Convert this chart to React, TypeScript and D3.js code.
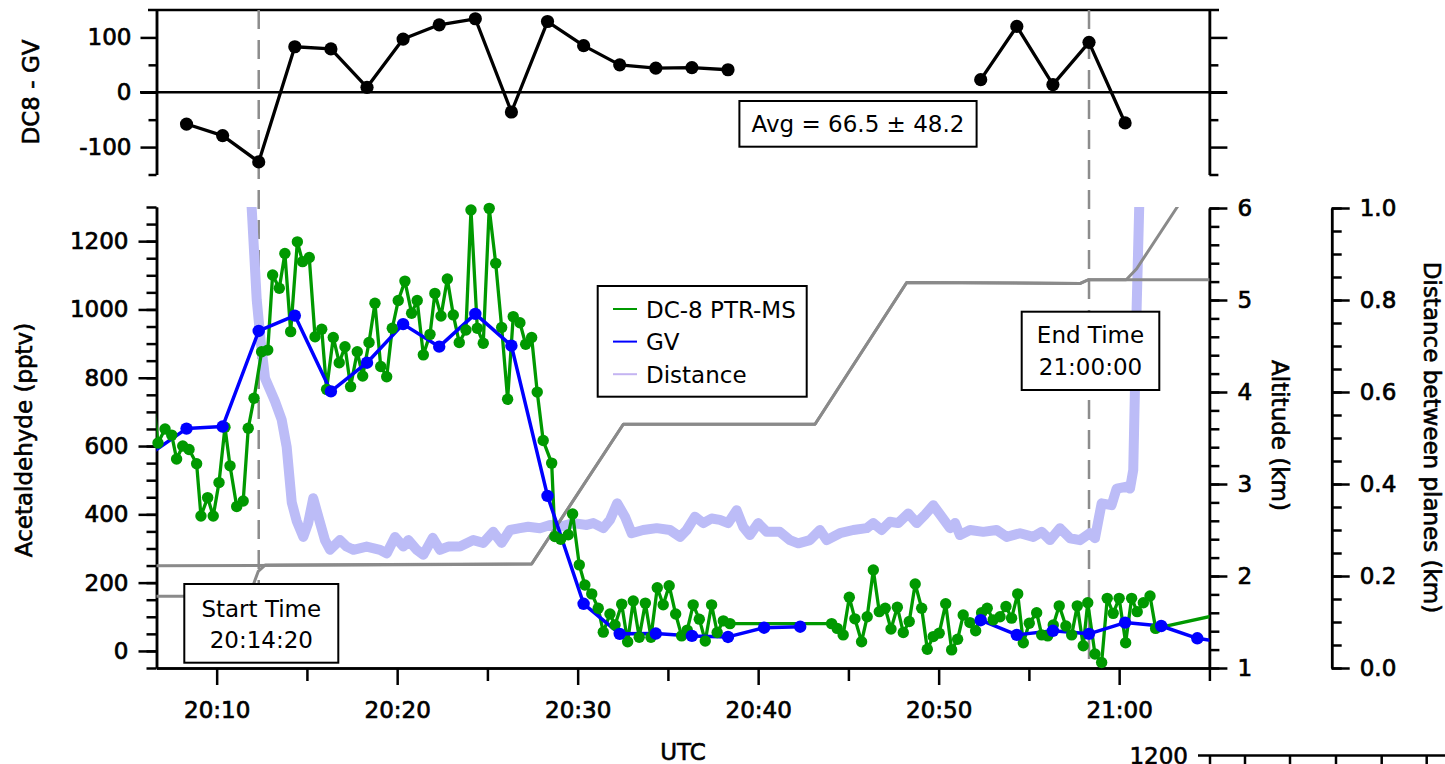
import React, { useEffect, useRef } from "react";
import * as d3 from "d3";

// all times are minutes after 20:00 UTC

// GV acetaldehyde (2-min samples), null = no data
const gvTimes = [6.33, 8.33, 10.33, 12.33, 14.33, 16.33, 18.33, 20.33, 22.33, 24.33, 26.33, 28.33, 30.33, 32.33, 34.33, 36.33, 38.33, 40.33, 42.33, 47.33, 52.33, 54.33, 56.33, 58.33, 60.33, 62.33, 64.33, 66.33];
const gvValues = [577, 651, 657, 937, 982, 760, 844, 957, 891, 987, 894, 454, 138, 50, 51, 44, 41, 68, 71, null, 90, 47, 59, 50, 83, 73, 37, 21];

// DC8 - GV difference
const diffTimes = [8.33, 10.33, 12.33, 14.33, 16.33, 18.33, 20.33, 22.33, 24.33, 26.33, 28.33, 30.33, 32.33, 34.33, 36.33, 38.33, 45.33, 52.33, 54.33, 56.33, 58.33, 60.33];
const diffValues = [-58, -79, -127, 83, 79, 9, 97, 123, 134, -36, 129, 85, 50, 44, 45, 41, null, 23, 120, 14, 91, -56];

// DC-8 PTR-MS acetaldehyde
const dc8Times = [6.42, 6.75, 7.14, 7.51, 7.78, 8.12, 8.47, 8.89, 9.13, 9.5, 9.81, 10.13, 10.46, 10.74, 11.11, 11.47, 11.75, 12.07, 12.49, 12.83, 13.1, 13.47, 13.78, 14.1, 14.47, 14.76, 15.13, 15.45, 15.82, 16.09, 16.46, 16.79, 17.11, 17.42, 17.79, 18.09, 18.44, 18.77, 19.09, 19.42, 19.73, 20.06, 20.43, 20.8, 21.11, 21.45, 21.82, 22.09, 22.43, 22.78, 23.11, 23.44, 23.81, 24.09, 24.44, 24.77, 25.1, 25.46, 25.79, 26.12, 26.43, 26.8, 27.12, 27.45, 27.76, 28.09, 28.56, 28.74, 29.06, 29.48, 29.72, 30.09, 30.4, 30.78, 31.14, 31.42, 31.79, 32.07, 32.44, 32.77, 33.08, 33.41, 33.75, 34.06, 34.41, 34.74, 35.07, 35.43, 35.76, 36.07, 36.4, 36.74, 37.07, 37.42, 37.73, 38.07, 38.44, 44.07, 44.38, 44.71, 45.05, 45.36, 45.73, 46.04, 46.38, 46.71, 47.04, 47.36, 47.71, 48.04, 48.37, 48.7, 49.06, 49.37, 49.7, 50.03, 50.39, 50.72, 51.05, 51.36, 51.73, 52.05, 52.38, 52.69, 53.02, 53.4, 53.73, 54.04, 54.38, 54.69, 55.02, 55.43, 55.71, 56.04, 56.35, 56.68, 57.05, 57.37, 57.68, 58.01, 58.26, 58.66, 59.03, 59.34, 59.67, 60.0, 60.36, 60.69, 61.0, 61.34, 61.71, 62.02, 66.0];
const dc8Values = [760, 609, 650, 632, 562, 600, 590, 548, 395, 449, 395, 493, 655, 542, 423, 439, 652, 740, 876, 881, 1101, 1062, 1164, 935, 1198, 1140, 1152, 920, 942, 766, 918, 844, 891, 774, 876, 805, 903, 1018, 833, 803, 945, 1026, 1083, 989, 1026, 867, 927, 1047, 981, 1089, 984, 903, 940, 1291, 945, 901, 1296, 1135, 947, 737, 979, 961, 898, 918, 758, 616, 550, 335, 327, 340, 401, 252, 193, 167, 125, 55, 108, 76, 137, 27, 146, 40, 140, 40, 185, 135, 191, 108, 44, 61, 135, 93, 29, 135, 54, 88, 80, 80, 66, 47, 157, 94, 27, 100, 237, 115, 125, 64, 128, 54, 86, 196, 125, 5, 42, 52, 138, 3, 34, 105, 83, 59, 112, 125, 91, 100, 130, 96, 167, 24, 81, 112, 47, 44, 76, 132, 73, 47, 132, 15, 141, -9, -34, 154, 110, 154, 24, 154, 115, 141, 161, 66, 112];

// distance between planes (km)
const distTimes = [11.79, 11.94, 12.22, 12.44, 12.68, 13.23, 13.6, 13.88, 14.16, 14.43, 14.8, 15.07, 15.35, 15.63, 16.0, 16.28, 16.83, 17.2, 17.57, 18.31, 19.05, 19.42, 19.88, 20.34, 20.62, 21.08, 21.45, 21.97, 22.37, 22.83, 23.48, 24.22, 24.77, 25.32, 25.79, 26.25, 26.8, 27.26, 27.91, 28.47, 29.02, 29.76, 30.5, 30.87, 31.42, 31.79, 32.19, 32.62, 32.99, 33.63, 34.38, 35.11, 35.67, 36.04, 36.5, 36.96, 37.42, 37.88, 38.34, 38.81, 39.17, 39.54, 40.0, 40.47, 41.2, 41.76, 42.22, 42.87, 43.42, 43.8, 44.53, 45.27, 46.01, 46.38, 46.84, 47.3, 47.76, 48.32, 48.78, 49.24, 49.7, 50.17, 50.63, 50.91, 51.18, 51.74, 52.47, 53.21, 53.77, 54.51, 55.24, 55.71, 56.17, 56.72, 57.28, 57.83, 58.38, 58.66, 59.03, 59.58, 59.86, 60.42, 60.6, 60.78, 60.87, 60.97, 61.11, 61.2];
const distKm = [1.1, 1.0, 0.8, 0.71, 0.63, 0.58, 0.54, 0.48, 0.36, 0.32, 0.285, 0.315, 0.369, 0.329, 0.278, 0.257, 0.278, 0.264, 0.257, 0.264, 0.257, 0.249, 0.285, 0.264, 0.278, 0.257, 0.246, 0.283, 0.257, 0.264, 0.264, 0.278, 0.272, 0.296, 0.272, 0.3, 0.304, 0.307, 0.304, 0.311, 0.307, 0.315, 0.311, 0.315, 0.304, 0.322, 0.358, 0.329, 0.293, 0.3, 0.304, 0.3, 0.285, 0.3, 0.329, 0.315, 0.325, 0.322, 0.315, 0.343, 0.307, 0.289, 0.315, 0.296, 0.296, 0.278, 0.271, 0.278, 0.3, 0.278, 0.293, 0.3, 0.304, 0.315, 0.3, 0.318, 0.315, 0.336, 0.315, 0.333, 0.354, 0.329, 0.304, 0.315, 0.289, 0.3, 0.296, 0.3, 0.285, 0.293, 0.285, 0.296, 0.278, 0.304, 0.282, 0.278, 0.293, 0.282, 0.358, 0.354, 0.39, 0.394, 0.39, 0.43, 0.597, 0.785, 1.0, 1.1];

// altitudes (km)
const dc8AltTimes = [6.5, 17.5, 27.45, 32.53, 43.15, 48.23, 57.85, 58.29, 65.5];
const dc8AltKm = [2.11, 2.12, 2.13, 3.65, 3.65, 5.19, 5.18, 5.22, 5.22];
const gvAltTimes = [6.5, 11.8, 12.3, 12.7, 27.45, 32.53, 43.15, 48.23, 57.85, 58.29, 60.39, 60.97, 63.18, 63.6];
const gvAltKm = [1.78, 1.78, 2.05, 2.12, 2.13, 3.65, 3.65, 5.19, 5.18, 5.22, 5.22, 5.34, 6.0, 6.12];

const xMajorTicks = [10, 20, 30, 40, 50, 60];
const xTickLabels = ["20:10", "20:20", "20:30", "20:40", "20:50", "21:00"];
const xMinorTicks = [15, 25, 35, 45, 55, 65];
const acTicks = [0, 200, 400, 600, 800, 1000, 1200];
const altTicks = [1, 2, 3, 4, 5, 6];
const distTicks = [0, 0.2, 0.4, 0.6, 0.8, 1.0];
const diffTicks = [-100, 0, 100];
const diffMinorTicks = [-150, -50, 50];

const startLine = 12.33;
const endLine = 58.33;
const startLabel = ["Start Time", "20:14:20"];
const endLabel = ["End Time", "21:00:00"];
const avgLabel = "Avg = 66.5 \u00b1 48.2";

const GREEN = "#009900";
const BLUE = "#0000ff";
const LAVENDER = "#bcbcf7";
const GRAY = "#8a8a8a";
const FONT = "DejaVu Sans";

const legendItems = [
  { name: "DC-8 PTR-MS", color: GREEN },
  { name: "GV", color: BLUE },
  { name: "Distance", color: "#c4b4f2" },
];

const zip = (t: number[], v: (number | null)[]) => t.map((d, i) => ({ t: d, v: v[i] }));

const App: React.FC = () => {
  const svgRef = useRef<SVGSVGElement | null>(null);

  useEffect(() => {
    if (!svgRef.current) return;
    const svg = d3.select(svgRef.current);
    svg.selectAll("*").remove();

    const x = d3.scaleLinear().domain([6 + 40 / 60, 65]).range([156.5, 1209.4]);
    const yTop = d3.scaleLinear().domain([-150, 150]).range([174.5, 10]);
    const yAc = d3.scaleLinear().domain([-50, 1300]).range([668, 207]);
    const yAlt = d3.scaleLinear().domain([1, 6]).range([668, 208]);
    const yDist = d3.scaleLinear().domain([0, 1]).range([668, 208]);
    const [x0, x1] = x.range();
    const inX = (t: number) => t >= x.domain()[0] && t <= x.domain()[1];

    svg
      .append("defs")
      .append("clipPath")
      .attr("id", "main-clip")
      .append("rect")
      .attr("x", x0)
      .attr("y", 207)
      .attr("width", x1 - x0)
      .attr("height", 668 - 207);

    const styleAxis = (g: any, bold = true) => {
      g.select(".domain").attr("stroke-width", 2.5).attr("stroke", "#000");
      g.selectAll(".tick line").attr("stroke-width", 2.5).attr("stroke", "#000");
      const txt = g
        .selectAll("text")
        .attr("font-family", FONT)
        .attr("font-size", 23)
        .attr("fill", "#000");
      if (bold) txt.attr("stroke", "#000").attr("stroke-width", 0.7);
    };

    const addAxis = (axis: any, tx: number, ty: number) => {
      const g = svg.append("g").attr("transform", `translate(${tx},${ty})`).call(axis);
      styleAxis(g);
      return g;
    };

    // ---------- top panel: DC8 - GV ----------
    svg
      .append("line")
      .attr("x1", 148)
      .attr("x2", 1219)
      .attr("y1", yTop(150))
      .attr("y2", yTop(150))
      .attr("stroke", "#000")
      .attr("stroke-width", 2.5);
    svg
      .append("line")
      .attr("x1", 140)
      .attr("x2", 1227)
      .attr("y1", yTop(0))
      .attr("y2", yTop(0))
      .attr("stroke", "#000")
      .attr("stroke-width", 2.5);

    addAxis(
      d3.axisLeft(yTop).tickValues(diffMinorTicks).tickSize(8).tickSizeOuter(0).tickFormat(() => ""),
      x0,
      0
    );
    addAxis(
      d3
        .axisLeft(yTop)
        .tickValues(diffTicks)
        .tickSize(16)
        .tickPadding(9)
        .tickSizeOuter(0)
        .tickFormat((d: any) => String(d)),
      x0,
      0
    );
    addAxis(
      d3.axisRight(yTop).tickValues(diffMinorTicks).tickSize(9).tickSizeOuter(0).tickFormat(() => ""),
      x1,
      0
    );
    addAxis(
      d3.axisRight(yTop).tickValues(diffTicks).tickSize(18).tickSizeOuter(0).tickFormat(() => ""),
      x1,
      0
    );

    // ---------- main panel axes ----------
    addAxis(
      d3.axisLeft(yAc).tickValues(d3.range(-50, 1301, 50)).tickSize(10).tickSizeOuter(0).tickFormat(() => ""),
      x0,
      0
    );
    addAxis(
      d3.axisLeft(yAc).tickValues(acTicks).tickSize(18).tickPadding(10).tickSizeOuter(0).tickFormat(d3.format("d")),
      x0,
      0
    );
    addAxis(
      d3.axisBottom(x).tickValues(xMinorTicks).tickSize(13).tickSizeOuter(0).tickFormat(() => ""),
      0,
      668
    );
    addAxis(
      d3
        .axisBottom(x)
        .tickValues(xMajorTicks)
        .tickSize(17)
        .tickPadding(17)
        .tickSizeOuter(0)
        .tickFormat((d: any) => xTickLabels[xMajorTicks.indexOf(+d)]),
      0,
      668
    );
    addAxis(
      d3.axisRight(yAlt).tickValues(d3.range(1, 6.001, 0.2)).tickSize(10).tickSizeOuter(0).tickFormat(() => ""),
      x1,
      0
    );
    addAxis(
      d3.axisRight(yAlt).tickValues(altTicks).tickSize(18).tickPadding(10).tickSizeOuter(0).tickFormat(d3.format("d")),
      x1,
      0
    );
    addAxis(
      d3.axisRight(yDist).tickValues(d3.range(0, 1.0001, 0.05)).tickSize(10).tickSizeOuter(0).tickFormat(() => ""),
      1331.7,
      0
    );
    addAxis(
      d3.axisRight(yDist).tickValues(distTicks).tickSize(18).tickPadding(10).tickSizeOuter(0).tickFormat(d3.format(".1f")),
      1331.7,
      0
    );

    // ---------- reference lines ----------
    [startLine, endLine].forEach((t) => {
      svg
        .append("line")
        .attr("x1", x(t))
        .attr("x2", x(t))
        .attr("y1", 10)
        .attr("y2", 668)
        .attr("stroke", "#8c8c8c")
        .attr("stroke-width", 2.5)
        .attr("stroke-dasharray", "19 11");
    });

    const plot = svg.append("g").attr("clip-path", "url(#main-clip)");

    // distance
    const distLine = d3
      .line<{ t: number; v: number | null }>()
      .x((d) => x(d.t))
      .y((d) => yDist(d.v as number));
    plot
      .append("path")
      .datum(zip(distTimes, distKm))
      .attr("d", distLine)
      .attr("fill", "none")
      .attr("stroke", LAVENDER)
      .attr("stroke-width", 10)
      .attr("stroke-linejoin", "round");

    // altitudes
    const altLine = d3
      .line<{ t: number; v: number | null }>()
      .x((d) => x(d.t))
      .y((d) => yAlt(d.v as number));
    [zip(gvAltTimes, gvAltKm), zip(dc8AltTimes, dc8AltKm)].forEach((s) => {
      plot
        .append("path")
        .datum(s)
        .attr("d", altLine)
        .attr("fill", "none")
        .attr("stroke", GRAY)
        .attr("stroke-width", 3)
        .attr("stroke-linejoin", "round");
    });

    // acetaldehyde
    const acLine = d3
      .line<{ t: number; v: number | null }>()
      .defined((d) => d.v != null)
      .x((d) => x(d.t))
      .y((d) => yAc(d.v as number));

    const drawSeries = (
      data: { t: number; v: number | null }[],
      color: string,
      width: number,
      r: number,
      yS: (v: number) => number,
      line: any,
      clipped: boolean
    ) => {
      (clipped ? plot : svg)
        .append("path")
        .datum(data)
        .attr("d", line)
        .attr("fill", "none")
        .attr("stroke", color)
        .attr("stroke-width", width)
        .attr("stroke-linejoin", "round");
      svg
        .append("g")
        .selectAll("circle")
        .data(data.filter((d) => d.v != null && inX(d.t)))
        .enter()
        .append("circle")
        .attr("cx", (d) => x(d.t))
        .attr("cy", (d) => yS(d.v as number))
        .attr("r", r)
        .attr("fill", color);
    };

    drawSeries(zip(dc8Times, dc8Values), GREEN, 3.3, 5.7, yAc, acLine, true);
    drawSeries(zip(gvTimes, gvValues), BLUE, 3.5, 6.2, yAc, acLine, true);

    const diffLine = d3
      .line<{ t: number; v: number | null }>()
      .defined((d) => d.v != null)
      .x((d) => x(d.t))
      .y((d) => yTop(d.v as number));
    drawSeries(zip(diffTimes, diffValues), "#000", 3.3, 6.6, yTop, diffLine, false);

    // ---------- annotation boxes ----------
    const box = (bx: number, by: number, bw: number, bh: number, lines: string[], baselines: number[]) => {
      svg
        .append("rect")
        .attr("x", bx)
        .attr("y", by)
        .attr("width", bw)
        .attr("height", bh)
        .attr("fill", "#fff")
        .attr("stroke", "#000")
        .attr("stroke-width", 2);
      lines.forEach((s, i) => {
        svg
          .append("text")
          .attr("x", bx + bw / 2)
          .attr("y", baselines[i])
          .attr("text-anchor", "middle")
          .attr("font-family", FONT)
          .attr("font-size", 23)
          .text(s);
      });
    };
    box(184.3, 584, 154, 78.7, startLabel, [616.7, 648.3]);
    box(1021.7, 311.7, 137.6, 78.3, endLabel, [343.3, 375.3]);
    box(739.4, 101, 237.2, 45.7, [avgLabel], [131.7]);

    // ---------- legend ----------
    const legend = svg.append("g");
    legend
      .append("rect")
      .attr("x", 597.7)
      .attr("y", 286)
      .attr("width", 209)
      .attr("height", 110.7)
      .attr("fill", "#fff")
      .attr("stroke", "#000")
      .attr("stroke-width", 2);
    legendItems.forEach((it, i) => {
      const ly = 309 + i * 32.6;
      legend
        .append("line")
        .attr("x1", 613)
        .attr("x2", 637)
        .attr("y1", ly)
        .attr("y2", ly)
        .attr("stroke", it.color)
        .attr("stroke-width", 2);
      legend
        .append("text")
        .attr("x", 646)
        .attr("y", ly + 8.5)
        .attr("font-family", FONT)
        .attr("font-size", 23)
        .text(it.name);
    });

    // ---------- axis titles ----------
    const title = (s: string, tx: number, ty: number, rot: number) => {
      svg
        .append("text")
        .attr("transform", `translate(${tx},${ty}) rotate(${rot})`)
        .attr("text-anchor", "middle")
        .attr("font-family", FONT)
        .attr("font-size", 23)
        .attr("stroke", "#000")
        .attr("stroke-width", 0.6)
        .text(s);
    };
    title("DC8 - GV", 39, 92, -90);
    title("Acetaldehyde (pptv)", 32, 440, -90);
    title("UTC", (x0 + x1) / 2, 760, 0);
    title("Altitude (km)", 1272, 435.5, 90);
    title("Distance between planes (km)", 1424, 437.5, 90);

    // ---------- top edge of the next figure panel (cut off in the original) ----------
    const cut = svg.append("g");
    cut
      .append("line")
      .attr("x1", 1198)
      .attr("x2", 1445)
      .attr("y1", 755.5)
      .attr("y2", 755.5)
      .attr("stroke", "#000")
      .attr("stroke-width", 2.5);
    [1210, 1245, 1290, 1336, 1381.7, 1426.7].forEach((tx) => {
      cut
        .append("line")
        .attr("x1", tx)
        .attr("x2", tx)
        .attr("y1", 755.5)
        .attr("y2", 764)
        .attr("stroke", "#000")
        .attr("stroke-width", 2.5);
    });
    cut
      .append("text")
      .attr("x", 1188)
      .attr("y", 764)
      .attr("text-anchor", "end")
      .attr("font-family", FONT)
      .attr("font-size", 23)
      .attr("stroke", "#000")
      .attr("stroke-width", 0.6)
      .text("1200");
  }, []);

  return (
    <svg
      ref={svgRef}
      width={1445}
      height={764}
      style={{ position: "absolute", left: 0, top: 0, background: "#fff" }}
    ></svg>
  );
};

export default App;
